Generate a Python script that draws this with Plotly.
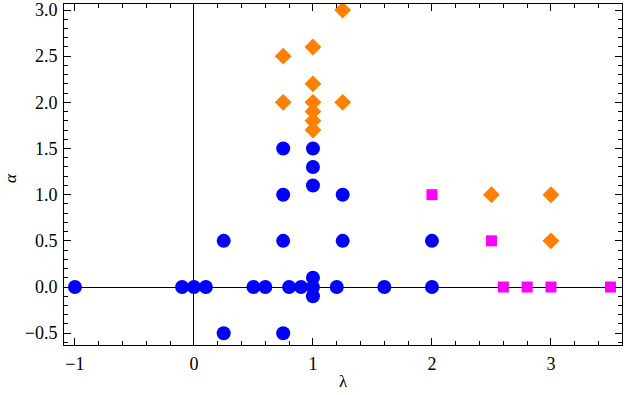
import plotly.graph_objects as go

# Синие точки
blue_x = [-1, -0.1, 0, 0.1, 0.25, 0.25, 0.5, 0.6, 0.75, 0.75, 0.75, 0.75, 0.8, 0.9,
          1, 1, 1, 1, 1, 1, 1.2, 1.25, 1.25, 1.6, 2, 2]
blue_y = [0, 0, 0, 0, 0.5, -0.5, 0, 0, 1.5, 1.0, 0.5, -0.5, 0, 0,
          1.5, 1.3, 1.1, 0.1, 0, -0.1, 0, 1.0, 0.5, 0, 0.5, 0]

# Оранжевые ромбы
orange_x = [1.25, 1, 0.75, 1, 0.75, 1, 1.25, 1, 1, 1, 2.5, 3, 3]
orange_y = [3.0, 2.6, 2.5, 2.2, 2.0, 2.0, 2.0, 1.9, 1.8, 1.7, 1.0, 1.0, 0.5]

# Пурпурные квадраты
magenta_x = [2, 2.5, 2.6, 2.8, 3, 3.5]
magenta_y = [1.0, 0.5, 0, 0, 0, 0]

SERIF = "Times New Roman, Liberation Serif, serif"

fig = go.Figure()

fig.add_trace(go.Scatter(
    x=blue_x, y=blue_y, mode="markers",
    marker=dict(symbol="circle", size=14, color="#0000ff", line=dict(width=0)),
))
fig.add_trace(go.Scatter(
    x=orange_x, y=orange_y, mode="markers",
    marker=dict(symbol="diamond", size=13, color="#ff8000", line=dict(width=0)),
))
fig.add_trace(go.Scatter(
    x=magenta_x, y=magenta_y, mode="markers",
    marker=dict(symbol="square", size=11, color="#ff00ff", line=dict(width=0)),
))

fig.update_layout(
    width=625,
    height=395,
    showlegend=False,
    plot_bgcolor="white",
    paper_bgcolor="white",
    font=dict(family=SERIF, size=18, color="black"),
    margin=dict(l=64, r=3, t=4, b=50),
)

# Общие настройки осей (рамка с тиками внутрь)
axis_common = dict(
    showgrid=False,
    showline=True,
    linecolor="black",
    linewidth=1,
    mirror="allticks",
    ticks="inside",
    ticklen=7,
    tickcolor="black",
    tickwidth=1,
    zeroline=True,
    zerolinecolor="black",
    zerolinewidth=1,
    automargin=False,
    tickfont=dict(family=SERIF, size=18, color="black"),
)

fig.update_xaxes(
    range=[-1.092, 3.597],
    dtick=1,
    tick0=0,
    ticklabelstandoff=2,
    minor=dict(dtick=0.2, ticks="inside", ticklen=4, tickcolor="black"),
    **axis_common,
)
fig.update_yaxes(
    range=[-0.628, 3.065],
    dtick=0.5,
    tick0=0,
    tickformat=".1f",
    ticklabelstandoff=2,
    minor=dict(dtick=0.1, ticks="inside", ticklen=4, tickcolor="black"),
    **axis_common,
)

# Подписи осей
fig.add_annotation(text="λ", xref="paper", yref="paper", x=0.5, y=-0.108,
                   yanchor="middle", showarrow=False, borderpad=0,
                   font=dict(family=SERIF, size=17, color="black"))
fig.add_annotation(text="<i>α</i>", xref="paper", yref="paper", x=-0.095, y=0.49,
                   xanchor="center", textangle=-90, showarrow=False, borderpad=0,
                   font=dict(family=SERIF, size=17, color="black"))

# Убираем отступы body, чтобы фигура совпала с окном
fig.write_html("out.html", config={"displayModeBar": False},
               post_script="document.body.style.margin='0';")
